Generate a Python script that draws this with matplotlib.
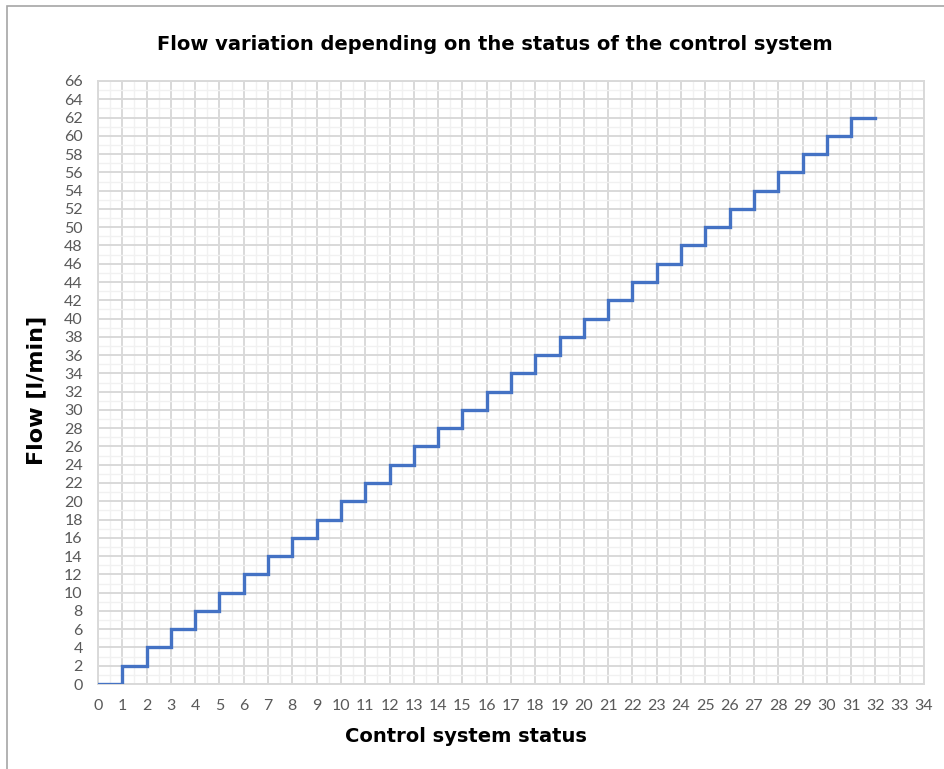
import numpy as np
import matplotlib
matplotlib.use("Agg")
import matplotlib.pyplot as plt
from matplotlib.patches import Rectangle
from matplotlib.ticker import MultipleLocator

# control system status (0..32) and flow in l/min
status = [0, 1, 2, 3, 4, 5, 6, 7, 8, 9, 10, 11, 12, 13, 14, 15, 16,
          17, 18, 19, 20, 21, 22, 23, 24, 25, 26, 27, 28, 29, 30, 31, 32]
flow = [0, 2, 4, 6, 8, 10, 12, 14, 16, 18, 20, 22, 24, 26, 28, 30, 32,
        34, 36, 38, 40, 42, 44, 46, 48, 50, 52, 54, 56, 58, 60, 62, 62]

TITLE = "Flow variation depending on the status of the control system"
XLABEL = "Control system status"
YLABEL = "Flow [l/min]"

W, H = 944, 769
fig = plt.figure(figsize=(W / 100, H / 100), dpi=100)
ax = fig.add_axes([98 / W, 1 - 684 / H, (924 - 98) / W, (684 - 81) / H])

ax.plot(status, flow, drawstyle="steps-post", color="#4472C4", lw=2.4,
        solid_joinstyle="miter", zorder=3)

ax.set_xlim(0, 34)
ax.set_ylim(0, 66)
ax.xaxis.set_major_locator(MultipleLocator(1))
ax.yaxis.set_major_locator(MultipleLocator(2))
ax.xaxis.set_minor_locator(MultipleLocator(0.5))
ax.yaxis.set_minor_locator(MultipleLocator(1))
ax.grid(which="major", color="#d9d9d9", lw=1.4)
ax.grid(which="minor", color="#f1f1f1", lw=1.0)
ax.set_axisbelow(True)
for s in ax.spines.values():
    s.set_color("#d9d9d9")
    s.set_linewidth(1.4)
ax.tick_params(which="both", length=0)
ax.tick_params(axis="x", pad=11)
ax.tick_params(axis="y", pad=11)
for lab in ax.get_xticklabels() + ax.get_yticklabels():
    lab.set_fontfamily("Lato")
    lab.set_fontsize(11.5)
    lab.set_color("#595959")

fig.text(495 / W, 1 - 45 / H, TITLE, ha="center", va="center",
         fontfamily="DejaVu Sans", fontweight="bold", fontsize=14)
fig.text(466 / W, 1 - 736 / H, XLABEL, ha="center", va="center",
         fontfamily="DejaVu Sans", fontweight="bold", fontsize=14)
fig.text(36 / W, 1 - 390 / H, YLABEL, ha="center", va="center", rotation=90,
         fontfamily="DejaVu Sans", fontweight="bold", fontsize=16)

# chart frame (only left and top edges are visible in the image)
fig.patches.append(Rectangle((7 / W, -0.05), 1.2, 1 - 6 / H + 0.05,
                             transform=fig.transFigure, fill=False,
                             edgecolor="#a6a6a6", lw=1.2))

fig.savefig("out.png", dpi=100)
